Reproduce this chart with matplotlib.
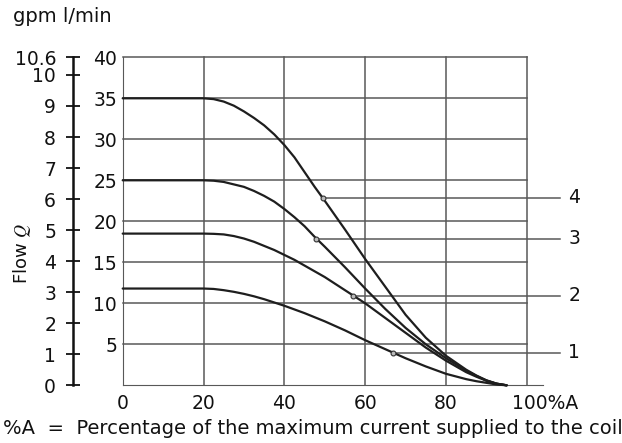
import numpy as np
import matplotlib
matplotlib.use('Agg')
import matplotlib.pyplot as plt
import matplotlib.transforms as mtransforms

plt.rcParams['font.family'] = ['DejaVu Sans']
plt.rcParams['mathtext.fontset'] = 'stix'

# current in %A where the curves were read
current = [0, 20, 22.5, 25, 27.5, 30, 32.5, 35, 37.5, 40, 42.5, 45, 47.5, 50,
           55, 60, 65, 70, 75, 80, 85, 87.5, 90, 92.5, 95]
flow1 = [11.8, 11.8, 11.75, 11.6, 11.4, 11.15, 10.85, 10.5, 10.1, 9.7, 9.25, 8.8, 8.3, 7.8,
         6.7, 5.5, 4.4, 3.3, 2.3, 1.4, 0.75, 0.5, 0.3, 0.1, 0]
flow2 = [18.5, 18.5, 18.47, 18.4, 18.2, 17.9, 17.5, 17.0, 16.5, 15.9, 15.3, 14.6, 13.9, 13.2,
         11.6, 10.0, 8.2, 6.4, 4.6, 3.0, 1.6, 1.05, 0.55, 0.2, 0]
flow3 = [25, 25, 24.95, 24.8, 24.5, 24.2, 23.7, 23.1, 22.4, 21.5, 20.5, 19.4, 18.1, 16.9,
         14.4, 11.8, 9.3, 7.0, 5.0, 3.3, 1.8, 1.15, 0.6, 0.2, 0]
flow4 = [35, 35, 34.9, 34.6, 34.1, 33.4, 32.6, 31.7, 30.6, 29.3, 27.8, 26.0, 24.2, 22.5,
         19.0, 15.4, 12.0, 8.6, 5.8, 3.6, 1.9, 1.2, 0.6, 0.2, 0]
curves = [flow1, flow2, flow3, flow4]
curve_names = ['1', '2', '3', '4']
# marker points where the label leaders start
mark_x = [66.8, 56.9, 47.9, 49.5]
mark_y = [4.0, 10.9, 17.9, 22.9]

xticks = [0, 20, 40, 60, 80, 100]
xlabels = ['0', '20', '40', '60', '80', '100%A']
lmin_ticks = [0, 5, 10, 15, 20, 25, 30, 35, 40]
gpm_ticks = [0, 1, 2, 3, 4, 5, 6, 7, 8, 9, 10]
gpm_top = 40 / 3.785

W, H = 622, 443
fig = plt.figure(figsize=(W / 100, H / 100), dpi=100)
ax = fig.add_axes([122.7 / W, (H - 385.3) / H, 420.3 / W, 328 / H])
ax.set_xlim(0, 104)
ax.set_ylim(0, 40)

lc = '#1e1e1e'
gc = '#585858'
# grid only inside 0..100
for y in lmin_ticks[1:]:
    ax.plot([0, 100], [y, y], color=gc, lw=1.1, clip_on=False, zorder=1)
for x in xticks[1:]:
    ax.plot([x, x], [0, 40], color=gc, lw=1.1, clip_on=False, zorder=1)

for ys in curves:
    ax.plot(current, ys, color=lc, lw=1.6, clip_on=False, zorder=3,
            solid_joinstyle='round', solid_capstyle='round')

for mx, my, name in zip(mark_x, mark_y, curve_names):
    ax.plot([mx, 108.3], [my, my], color=gc, lw=1.1, clip_on=False, zorder=2)
    ax.plot(mx, my, 'o', ms=3.5, mfc='#bbbbbb', mec='#333333', mew=0.8, clip_on=False, zorder=4)
    ax.text(111.7, my, name, fontsize=13.5, ha='center', va='center', color='#111111')

for s in ['top', 'right']:
    ax.spines[s].set_visible(False)
ax.spines['left'].set_color(gc)
ax.spines['bottom'].set_color(gc)
ax.spines['left'].set_bounds(0, 40)
ax.spines['bottom'].set_bounds(0, 104)

ax.set_xticks(xticks)
ax.set_xticklabels(xlabels)
ax.set_yticks(lmin_ticks[1:])
ax.set_yticklabels([str(v) for v in lmin_ticks[1:]])
ax.tick_params(axis='both', length=0, labelsize=13.5, colors='#111111')
ax.tick_params(axis='x', pad=6)
ax.tick_params(axis='y', pad=4)
lab = ax.get_xticklabels()[-1]
lab.set_horizontalalignment('left')
lab.set_transform(lab.get_transform() + mtransforms.ScaledTranslation(-15 / 100, 0, fig.dpi_scale_trans))

# gpm scale
ax2 = fig.add_axes([72.7 / W, (H - 385.3) / H, 0.001, 328 / H])
ax2.set_ylim(0, gpm_top)
ax2.set_xticks([])
for s in ['top', 'right', 'bottom']:
    ax2.spines[s].set_visible(False)
ax2.spines['left'].set_linewidth(1.8)
ax2.spines['left'].set_color('#111111')
ax2.set_yticks(gpm_ticks + [gpm_top])
ax2.set_yticklabels([str(v) for v in gpm_ticks] + ['10.6'])
ax2.tick_params(axis='y', direction='inout', length=10, width=1.3, labelsize=13.5,
                colors='#111111', pad=7)
ax2.patch.set_visible(False)

fig.text(22 / W, 1 - 253 / H, 'Flow $Q$', rotation=90, ha='center', va='center',
         fontsize=13, color='#111111')
fig.text(13 / W, 1 - 17 / H, 'gpm l/min', ha='left', va='center', fontsize=14, color='#111111')
fig.text(3 / W, 1 - 428 / H, '%A  =  Percentage of the maximum current supplied to the coil',
         ha='left', va='center', fontsize=14, color='#111111')

fig.savefig('out.png', dpi=100)
